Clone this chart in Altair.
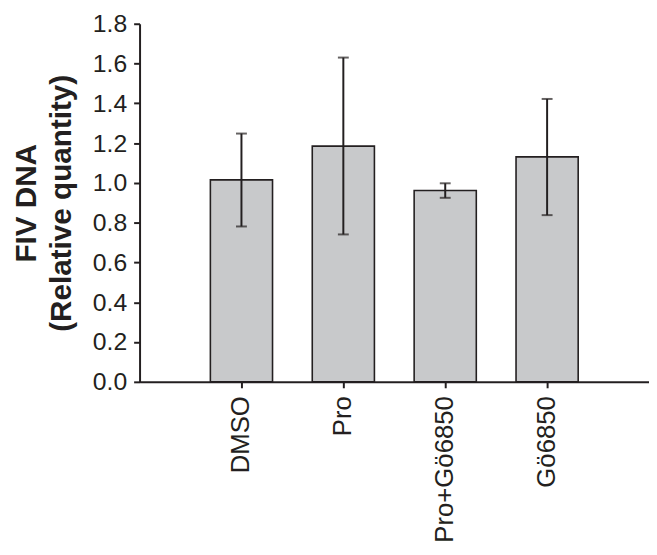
import altair as alt
import pandas as pd

categories = ["DMSO", "Pro", "Pro+Gö6850", "Gö6850"]
values = [1.015, 1.185, 0.962, 1.131]
err_upper = [1.248, 1.630, 0.998, 1.422]
err_lower = [0.781, 0.741, 0.925, 0.838]

df = pd.DataFrame({"cat": categories, "val": values, "hi": err_upper, "lo": err_lower})

INK = "#231f20"
FONT = "Liberation Sans"

x = alt.X("cat:N", sort=categories, title=None,
          scale=alt.Scale(paddingInner=0.39, paddingOuter=0.695),
          axis=alt.Axis(labelAngle=-90, labelFontSize=26, labelColor=INK, labelFont=FONT,
                        tickSize=6, tickColor=INK, tickWidth=2, domainColor=INK, domainWidth=2,
                        labelPadding=8, grid=False))
y_axis = alt.Axis(values=[0, 0.2, 0.4, 0.6, 0.8, 1.0, 1.2, 1.4, 1.6, 1.8], format=".1f",
                  labelFontSize=25, labelColor=INK, labelFont=FONT, labelPadding=7,
                  tickSize=6, tickColor=INK, tickWidth=2, domainColor=INK, domainWidth=2,
                  grid=False, title=["FIV DNA", "(Relative quantity)"], titleFontSize=30,
                  titleFont=FONT, titleFontWeight="bold", titleColor=INK, titlePadding=16,
                  titleLineHeight=35)

base = alt.Chart(df)
bars = base.mark_bar(fill="#c8c9cb", stroke=INK, strokeWidth=1.6).encode(
    x=x,
    y=alt.Y("val:Q", scale=alt.Scale(domain=[0, 1.8], nice=False), axis=y_axis),
)
rules = base.mark_rule(color=INK, strokeWidth=2).encode(
    x=alt.X("cat:N", sort=categories), y="lo:Q", y2="hi:Q")
cap_hi = base.mark_tick(color=INK, size=11, thickness=2).encode(
    x=alt.X("cat:N", sort=categories), y="hi:Q")
cap_lo = base.mark_tick(color=INK, size=11, thickness=2).encode(
    x=alt.X("cat:N", sort=categories), y="lo:Q")

chart = alt.layer(bars, rules, cap_hi, cap_lo).properties(
    width=515, height=362,
    autosize=alt.AutoSizeParams(type="none"),
    padding={"left": 133, "top": 13, "right": 0, "bottom": 160},
).configure_view(stroke=None)

chart.save("out.html", embed_options={"renderer": "svg", "actions": False})
